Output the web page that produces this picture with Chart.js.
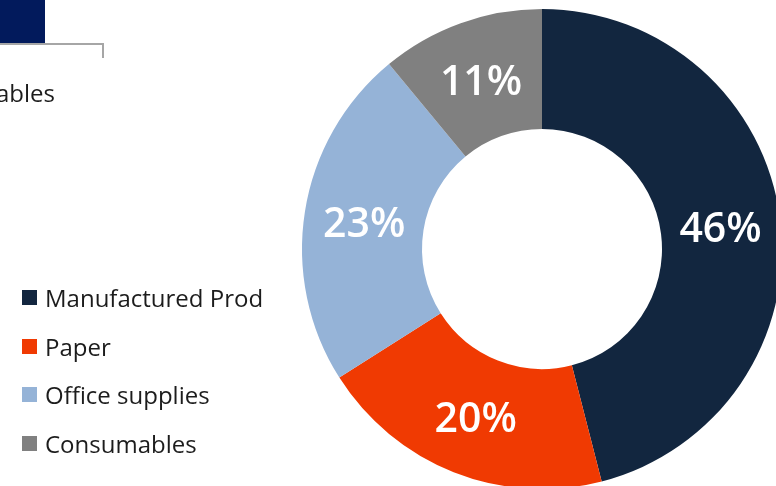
<!DOCTYPE html>
<html>
<head>
<meta charset="utf-8">
<script src="https://cdn.jsdelivr.net/npm/chart.js@4.4.1/dist/chart.umd.min.js"></script>
<style>
    html, body { margin: 0; padding: 0; background: #fff; overflow: hidden; }
    #page { position: relative; width: 776px; height: 486px; overflow: hidden; font-family: 'Open Sans', 'Noto Sans', sans-serif; }
    #chartWrap { position: absolute; left: 0; top: 0; width: 800px; height: 500px; }
    .tab { position: absolute; left: 0; top: 0; width: 45px; height: 43px; background: #021a5c; }
    .bracket { position: absolute; left: 0; top: 43px; width: 102px; height: 13px; border-top: 2px solid #a6a6a6; border-right: 2px solid #a6a6a6; }
    .prevLegend { position: absolute; right: calc(100% - 55px); top: 76px; white-space: nowrap; font-size: 24px; color: #1c1c1c; }
    #legend { position: absolute; left: 22px; top: 273px; }
    .item { display: flex; align-items: center; height: 48.7px; font-size: 24px; color: #1c1c1c; }
    .swatch { width: 15px; height: 15px; margin-right: 8px; }
</style>
</head>
<body>
<div id="page">
    <div id="chartWrap"><canvas id="shareChart" width="800" height="500"></canvas></div>
    <div class="tab"></div>
    <div class="bracket"></div>
    <div class="prevLegend">Consumables</div>
    <div id="legend"></div>
</div>
<script>
// Spend split by category (percent)
const categories = ['Manufactured Prod', 'Paper', 'Office supplies', 'Consumables'];
const shares = [46, 20, 23, 11];
const sliceColors = ['#12263f', '#f03a02', '#95b3d7', '#808080'];

// Percent labels in the middle of each ring segment
const sliceLabels = {
    id: 'sliceLabels',
    afterDatasetsDraw(chart) {
        const ctx = chart.ctx;
        const meta = chart.getDatasetMeta(0);
        ctx.save();
        ctx.fillStyle = '#ffffff';
        ctx.font = '600 41px "Open Sans", sans-serif';
        ctx.textAlign = 'center';
        ctx.textBaseline = 'middle';
        meta.data.forEach((arc, i) => {
            const pos = arc.tooltipPosition();
            ctx.fillText(shares[i] + '%', pos.x, pos.y + 4);
        });
        ctx.restore();
    }
};

function buildLegend() {
    const legend = document.getElementById('legend');
    categories.forEach((name, i) => {
        const row = document.createElement('div');
        row.className = 'item';
        const sw = document.createElement('span');
        sw.className = 'swatch';
        sw.style.background = sliceColors[i];
        const txt = document.createElement('span');
        txt.textContent = name;
        row.appendChild(sw);
        row.appendChild(txt);
        legend.appendChild(row);
    });
}

const ctx = document.getElementById('shareChart').getContext('2d');
new Chart(ctx, {
    type: 'doughnut',
    data: {
        labels: categories,
        datasets: [{
            data: shares,
            backgroundColor: sliceColors,
            borderWidth: 0
        }]
    },
    options: {
        responsive: false,
        animation: false,
        cutout: '50%',
        layout: { padding: { left: 302, right: 18, top: 9, bottom: 11 } },
        plugins: {
            legend: { display: false },
            tooltip: { enabled: false }
        }
    },
    plugins: [sliceLabels]
});

buildLegend();
</script>
</body>
</html>
